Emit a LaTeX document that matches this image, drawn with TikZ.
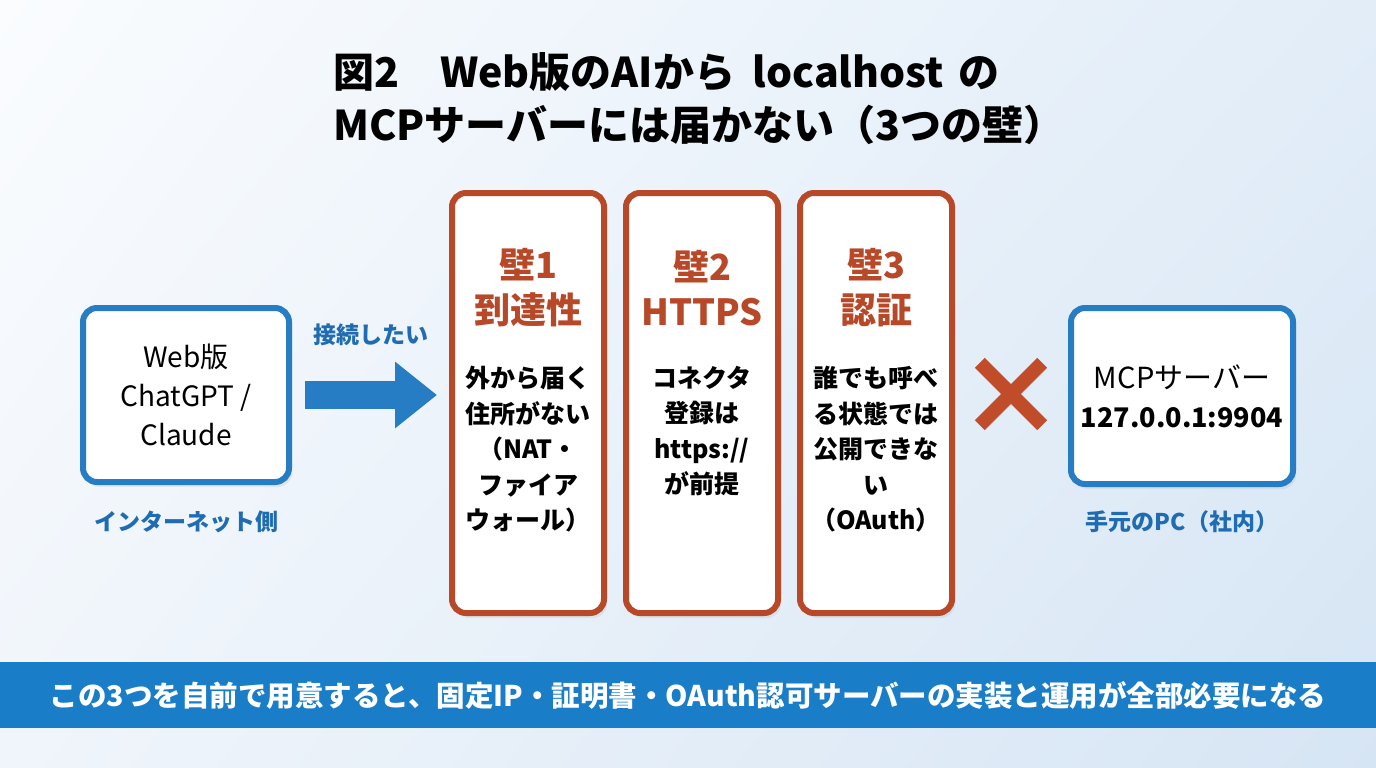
\documentclass[tikz,border=0pt]{standalone}
\usepackage{fontspec}
\setmainfont{Noto Sans CJK JP}
\usetikzlibrary{arrows.meta,shadows,shadings,positioning}
\definecolor{boxblue}{RGB}{38,125,196}
\definecolor{labelblue}{RGB}{31,108,178}
\definecolor{barblue}{RGB}{26,125,200}
\definecolor{wallred}{RGB}{183,72,40}
\definecolor{crossred}{RGB}{192,76,42}
\definecolor{bgtop}{RGB}{250,252,254}
\definecolor{bgright}{RGB}{226,237,248}
\definecolor{bgleft}{RGB}{240,245,251}
\definecolor{bgcorner}{RGB}{214,229,244}

\begin{document}
\begin{tikzpicture}[x=1pt, y=-1pt,
    endbox/.style={draw=boxblue, line width=6pt, rounded corners=14pt, fill=white,
        align=center, font=\fontsize{28}{39}\selectfont,
        drop shadow={shadow xshift=3pt, shadow yshift=-5pt, opacity=0.12}},
    wall/.style={draw=wallred, line width=6pt, rounded corners=14pt, fill=white,
        minimum width=152pt, minimum height=420pt,
        drop shadow={shadow xshift=3pt, shadow yshift=-5pt, opacity=0.12}},
    walltitle/.style={text=wallred, align=center, font=\bfseries\fontsize{36}{45}\selectfont},
    wallbody/.style={anchor=north, align=center, inner sep=0pt, font=\bfseries\fontsize{25}{35.5}\selectfont},
    sidelabel/.style={text=labelblue, font=\bfseries\fontsize{23}{28}\selectfont},
    bigarrow/.style={draw=boxblue, line width=28pt, -{Triangle[length=42pt, width=64pt]}},
    crossline/.style={draw=crossred, line width=14pt}]

    % background
    \shade[upper left=bgtop, upper right=bgright, lower left=bgleft, lower right=bgcorner]
        (0,0) rectangle (1376,768);
    \useasboundingbox (0,0) rectangle (1376,768);

    % title
    \node[anchor=north west, align=left, inner sep=0pt, font=\bfseries\fontsize{41}{53}\selectfont]
        (title) at (333,52) {図2　Web版のAIから\hspace{8pt} localhost\hspace{6pt} の\\MCPサーバーには届かない（3つの壁）};

    % left side
    \node[endbox, minimum width=206pt, minimum height=174pt] (client) at (186,395)
        {Web版\\ChatGPT /\\Claude};
    \node[sidelabel] (netlabel) at (186,522) {インターネット側};
    \node[sidelabel] (wantlabel) at (371,335) {接続したい};

    % the three walls
    \node[wall] (w1) at (528,403) {};
    \node[wall] (w2) at (702,403) {};
    \node[wall] (w3) at (876,403) {};

    \node[walltitle] (w1t) at (528,288) {壁1\\到達性};
    \node[walltitle] (w2t) at (702,288) {壁2\\HTTPS};
    \node[walltitle] (w3t) at (876,288) {壁3\\認証};

    \node[wallbody] (w1b) at (528,366) {外から届く\\住所がない\\（NAT・\\ファイア\\ウォール）};
    \node[wallbody] (w2b) at (702,366) {コネクタ\\登録は\\https://\\が前提};
    \node[wallbody] (w3b) at (876,366) {誰でも呼べ\\る状態では\\公開できな\\い\\（OAuth）};

    \draw[bigarrow, shorten <=13pt, shorten >=12pt] (client.east) -- (client.east -| w1.west);

    % blocked
    \node[minimum size=62pt, inner sep=0pt] (block) at (1011,394) {};
    \draw[crossline] (block.north west) -- (block.south east);
    \draw[crossline] (block.south west) -- (block.north east);

    % right side
    \node[endbox, minimum width=222pt, minimum height=176pt] (server) at (1182,396)
        {\fontsize{29}{39}\selectfont MCPサーバー\\\fontsize{27}{39}\selectfont\textbf{127.0.0.1:9904}};
    \node[sidelabel] (pclabel) at (1182,522) {手元のPC（社内）};

    % bottom note
    \node[fill=barblue, text=white, minimum width=1376pt, minimum height=66pt, inner sep=0pt,
        font=\bfseries\fontsize{28.5}{32}\selectfont] (note) at (688,695)
        {この3つを自前で用意すると、固定IP・証明書・OAuth認可サーバーの実装と運用が全部必要になる};
\end{tikzpicture}
\end{document}
